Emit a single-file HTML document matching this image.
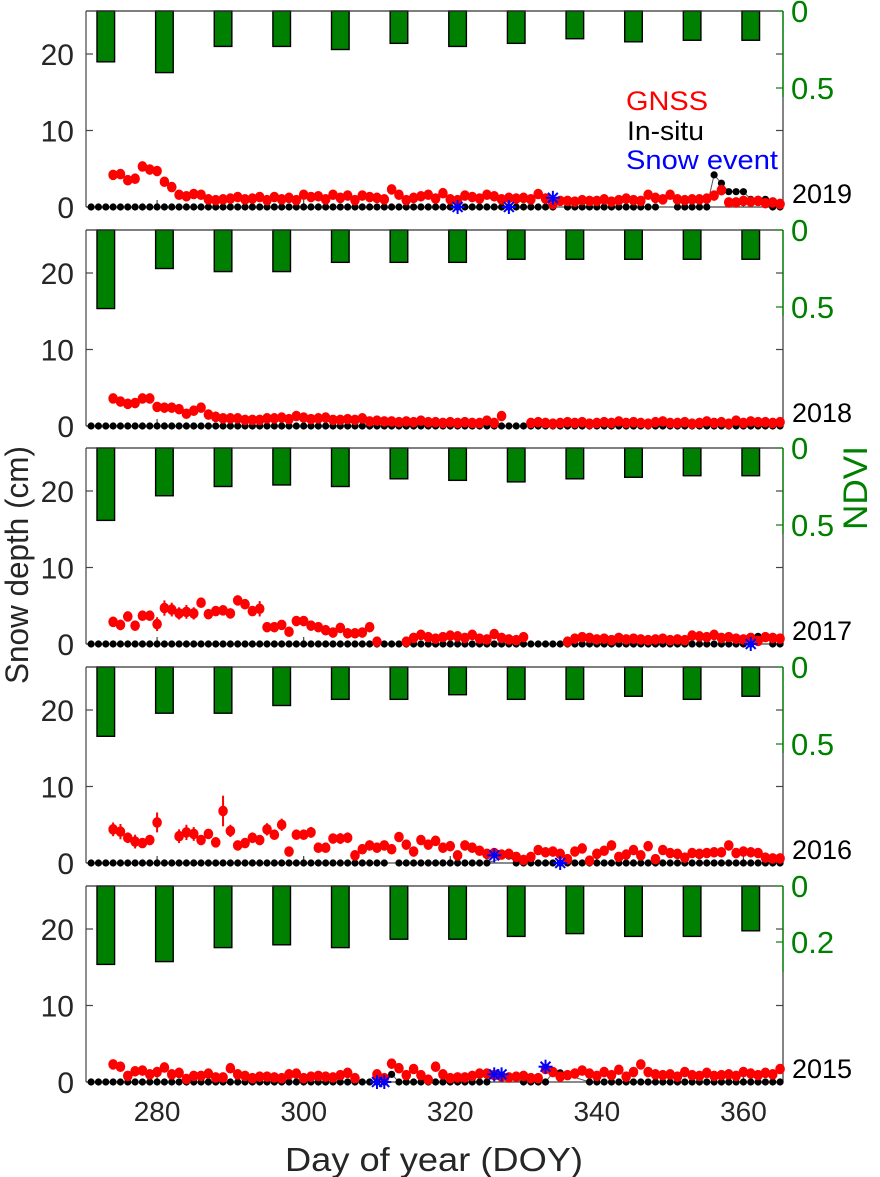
<!DOCTYPE html>
<html><head><meta charset="utf-8"><style>
html,body{margin:0;padding:0;background:#fff;}
svg{display:block;font-family:"Liberation Sans",Arial,sans-serif;}
</style></head><body>
<svg id="chart" width="880" height="1177" viewBox="0 0 880 1177" xmlns="http://www.w3.org/2000/svg">
<text transform="translate(28,565) rotate(-90)" text-anchor="middle" font-size="32" textLength="238" lengthAdjust="spacingAndGlyphs" fill="#262626">Snow depth (cm)</text>
<text transform="translate(867,488) rotate(-90)" text-anchor="middle" font-size="34" textLength="84" lengthAdjust="spacingAndGlyphs" fill="#008000">NDVI</text>
<text x="434" y="1171" text-anchor="middle" font-size="33" textLength="298" lengthAdjust="spacingAndGlyphs" fill="#262626">Day of year (DOY)</text>
<g>
<text x="626" y="110" font-size="27" textLength="82" lengthAdjust="spacingAndGlyphs" fill="#ff0000">GNSS</text>
<text x="627" y="140" font-size="27" textLength="77" lengthAdjust="spacingAndGlyphs" fill="#000">In-situ</text>
<text x="626" y="169" font-size="27" textLength="152" lengthAdjust="spacingAndGlyphs" fill="#0000ff">Snow event</text>
</g>
</svg>
<script>
const years = ["2019","2018","2017","2016","2015"];
const xTicks = [280,300,320,340,360];
const yTicks = [0,10,20];
const ndviTicks = [[0,0.5],[0,0.5],[0,0.5],[0,0.5],[0,0.2]];
const barDays = [273,281,289,297,305,313,321,329,337,345,353,361];
const ndvi2019 = [0.33,0.40,0.23,0.23,0.25,0.21,0.23,0.21,0.18,0.20,0.19,0.19];
const ndvi2018 = [0.51,0.25,0.27,0.27,0.21,0.21,0.21,0.19,0.19,0.19,0.19,0.19];
const ndvi2017 = [0.47,0.31,0.25,0.24,0.25,0.20,0.21,0.22,0.20,0.19,0.18,0.18];
const ndvi2016 = [0.45,0.30,0.30,0.25,0.21,0.21,0.18,0.21,0.21,0.19,0.21,0.19];
const ndvi2015 = [0.28,0.27,0.22,0.21,0.22,0.19,0.19,0.18,0.17,0.18,0.18,0.16];
const gnssStartDay = 274;
const gnss2019 = [4.2,4.3,3.5,3.7,5.3,4.9,4.7,3.3,2.6,1.6,1.4,1.7,1.6,1.0,0.9,1.0,1.1,1.3,1.0,1.1,1.3,0.9,1.3,1.0,1.2,0.9,1.6,1.3,1.4,1.0,1.6,1.2,1.5,0.9,1.5,1.3,1.2,1.0,2.3,1.6,0.9,1.2,1.4,1.6,1.1,1.8,1.0,0.9,1.5,1.3,1.1,1.6,1.4,1.0,1.2,1.1,1.2,1.0,1.7,1.1,0.4,0.8,0.8,0.7,0.9,0.8,0.8,1.0,0.7,0.9,1.1,0.9,0.8,1.6,1.2,1.0,1.6,1.0,0.9,1.0,1.0,1.1,1.5,2.2,0.6,0.6,0.8,0.7,0.8,0.5,0.6,0.4];
const gnss2018 = [3.6,3.2,2.9,3.0,3.6,3.6,2.5,2.4,2.4,2.2,1.6,2.0,2.4,1.5,1.2,1.0,1.0,1.0,0.8,0.8,0.8,1.0,1.0,1.1,0.9,1.3,1.1,0.9,1.0,1.1,0.8,0.8,0.9,0.8,1.0,0.6,0.7,0.6,0.6,0.5,0.6,0.5,0.7,0.5,0.5,0.4,0.5,0.4,0.5,0.4,0.4,0.7,0.4,1.3,null,null,null,0.4,0.5,0.4,0.3,0.4,0.5,0.4,0.5,0.3,0.4,0.5,0.4,0.6,0.4,0.5,0.4,0.3,0.5,0.6,0.4,0.4,0.5,0.3,0.4,0.6,0.4,0.5,0.3,0.7,0.4,0.6,0.5,0.5,0.4,0.5];
const gnss2017 = [2.9,2.5,3.6,2.4,3.7,3.7,2.6,4.7,4.5,4.0,4.2,4.0,5.4,3.9,4.3,4.4,4.0,5.7,5.2,4.3,4.6,2.2,2.2,2.5,1.6,3.0,3.0,2.4,2.2,1.8,1.5,2.1,1.4,1.4,1.5,2.2,0.3,null,null,null,0.3,0.8,1.2,0.9,0.7,0.9,1.1,1.0,0.8,1.2,0.7,0.6,1.3,0.8,0.6,0.5,0.9,null,null,null,null,null,0.3,0.7,0.9,0.8,0.6,0.7,0.5,0.8,0.6,0.7,0.6,0.5,0.6,0.7,0.5,0.6,0.5,1.1,1.0,0.9,1.2,0.8,0.9,0.7,0.6,0.8,0.4,0.9,0.8,0.7];
const gnss2016 = [4.4,4.1,3.3,2.8,2.6,3.0,5.3,null,null,3.5,4.0,3.8,3.0,3.8,2.7,6.8,4.2,2.3,2.6,3.3,3.0,4.4,3.7,5.0,1.5,3.7,3.7,4.0,2.0,2.0,3.2,3.2,3.3,1.0,1.8,2.3,2.0,2.3,1.8,3.4,2.4,1.5,3.0,2.4,2.9,2.0,2.2,1.0,2.3,2.0,1.6,1.2,1.3,1.1,1.2,0.8,0.4,0.8,1.7,1.4,1.5,1.2,0.5,1.5,1.9,0.3,1.2,1.6,2.3,0.8,1.1,1.7,1.0,2.2,0.5,1.7,1.3,1.2,0.7,1.3,1.2,1.3,1.4,1.4,2.3,1.3,1.5,1.4,1.3,0.7,0.6,0.6];
const gnss2015 = [2.3,2.0,0.8,1.4,1.5,1.0,1.3,1.9,1.0,1.2,0.4,0.8,0.8,1.1,0.6,0.6,1.8,1.0,0.8,0.5,0.7,0.7,0.6,0.5,1.0,1.1,0.5,0.7,0.8,0.7,0.6,0.9,1.2,0.5,null,null,1.0,0.5,2.4,1.8,0.9,1.7,0.9,0.3,2.0,1.0,0.5,0.6,0.6,0.8,1.1,1.1,0.9,0.7,0.6,0.7,0.8,0.5,0.5,1.7,1.3,0.7,0.9,1.1,1.5,1.1,0.8,1.3,0.9,1.6,0.7,1.3,2.3,1.3,1.0,0.9,1.0,0.7,1.3,0.9,0.8,1.2,0.8,0.9,1.0,0.8,1.3,1.1,0.9,1.2,1.0,1.7];
const gnssErr2017 = [[274,0.6],[275,0.7],[276,0.5],[280,0.9],[281,1.0],[282,0.9],[283,0.8],[284,0.9],[285,0.8],[286,0.6],[290,0.6],[291,0.6],[292,0.6],[293,0.6],[294,1.0]];
const gnssErr2016 = [[274,0.9],[275,1.0],[276,0.7],[277,0.9],[278,0.6],[280,1.3],[283,0.9],[284,1.0],[285,0.9],[287,0.6],[289,2.0],[290,0.8],[293,0.7],[294,0.6],[295,0.8],[297,0.8],[301,0.7],[305,0.7],[306,0.7]];
const gnssErr2019 = [[274,0.5],[275,0.5],[278,0.5],[279,0.5],[280,0.5]];
const insituDays = [271,365];
const insituGaps2019 = [335,349,350];
const insituVals2019 = [[356,4.2],[357,3.1],[358,2.0],[359,2.0],[360,2.0],[361,1.0],[362,1.0],[363,1.0]];
const insituGaps2018 = [];
const insituVals2018 = [];
const insituGaps2017 = [];
const insituVals2017 = [[362,1.0],[363,0.9]];
const insituGaps2016 = [312,326,327];
const insituVals2016 = [[328,0.9]];
const insituGaps2015 = [327,328,329,336,337,338];
const insituVals2015 = [[312,1.0],[326,1.1],[334,1.2],[335,1.2]];
const snow2019 = [[321,0],[328,0],[334,1.2]];
const snow2018 = [];
const snow2017 = [[361,0]];
const snow2016 = [[326,1.0],[335,0]];
const snow2015 = [[310,0],[311,0],[326,1.0],[327,1.0],[333,2.0]];

const ndviAll=[ndvi2019,ndvi2018,ndvi2017,ndvi2016,ndvi2015];
const gnssAll=[gnss2019,gnss2018,gnss2017,gnss2016,gnss2015];
const errAll=[gnssErr2019,[],gnssErr2017,gnssErr2016,[]];
const gapAll=[insituGaps2019,insituGaps2018,insituGaps2017,insituGaps2016,insituGaps2015];
const insAll=[insituVals2019,insituVals2018,insituVals2017,insituVals2016,insituVals2015];
const snowAll=[snow2019,snow2018,snow2017,snow2016,snow2015];

const NS="http://www.w3.org/2000/svg";
const svg=document.getElementById('chart');
const X0=86,X1=783,D0=270.3,D1=365.4;
const xs=d=>X0+(d-D0)*(X1-X0)/(D1-D0);
const zeroY=[207,426,644,863,1082];
const cmPx=7.65;
const ndviPx=[154,154,154,154,280];
function mk(tag,attrs,parent){const e=document.createElementNS(NS,tag);for(const k in attrs)e.setAttribute(k,attrs[k]);(parent||svg).appendChild(e);return e;}

for(let p=0;p<5;p++){
  const y0=zeroY[p], top=y0-196;
  const ys=v=>y0-v*cmPx;
  const yn=v=>top+v*ndviPx[p];
  const g=mk('g',{});
  
  
  ndviAll[p].forEach((v,i)=>{
    const bw=xs(barDays[i]+1.2)-xs(barDays[i]-1.2);
    const r=mk('rect',{x:xs(barDays[i])-bw/2,y:top,width:bw,height:yn(v)-top,fill:'#008000',stroke:'#000','stroke-width':1.4},g);
    
    
  });
  mk('line',{x1:X0,y1:top,x2:X1,y2:top,stroke:'#333','stroke-width':1.2},g);
  mk('line',{x1:X0,y1:top,x2:X0,y2:y0,stroke:'#444','stroke-width':1.2},g);
  mk('line',{x1:X0,y1:y0,x2:X1,y2:y0,stroke:'#444','stroke-width':1.2},g);
  mk('line',{x1:X1,y1:top,x2:X1,y2:y0,stroke:'#333','stroke-width':1.2},g);
  mk('line',{x1:X1,y1:top,x2:X1,y2:top+86,stroke:'#008000','stroke-width':1.4},g);
  yTicks.forEach(t=>{
    mk('line',{x1:X0,y1:ys(t),x2:X0+7,y2:ys(t),stroke:'#444','stroke-width':1.2},g);
    mk('line',{x1:X1,y1:ys(t),x2:X1-7,y2:ys(t),stroke:'#444','stroke-width':1.2},g);
    const tx=mk('text',{x:74,y:ys(t)+11,'text-anchor':'end','font-size':30,fill:'#262626'},g);
    tx.textContent=t;
    
    
  });
  ndviTicks[p].forEach(t=>{
    mk('line',{x1:X1,y1:yn(t),x2:X1-7,y2:yn(t),stroke:'#008000','stroke-width':1.2},g);
    const tx=mk('text',{x:791,y:yn(t)+11,'font-size':31,fill:'#008000'},g);
    tx.textContent=t;
    
    
  });
  xTicks.forEach(t=>{
    mk('line',{x1:xs(t),y1:y0,x2:xs(t),y2:y0-7,stroke:'#444','stroke-width':1.2},g);
    if(p===4){const tx=mk('text',{x:xs(t),y:y0+39,'text-anchor':'middle','font-size':28,fill:'#262626'},g);
      tx.textContent=t;
      
      }
  });
  const yl=mk('text',{x:792,y:y0-4,'font-size':27,fill:'#000'},g);
  yl.textContent=years[p];
  
  
  const pts=[];
  for(let d=insituDays[0];d<=insituDays[1];d++){
    if(gapAll[p].includes(d))continue;
    const o=insAll[p].find(a=>a[0]===d);
    pts.push([d,o?o[1]:0]);
  }
  mk('polyline',{points:pts.map(a=>xs(a[0])+','+ys(a[1])).join(' '),fill:'none',stroke:'#555','stroke-width':1},g);
  gnssAll[p].forEach((v,i)=>{
    if(v===null)return;
    const d=gnssStartDay+i;
    const e=errAll[p].find(a=>a[0]===d);
    const err=e?e[1]:0.25;
    mk('line',{x1:xs(d),y1:ys(v+err),x2:xs(d),y2:ys(v-err),stroke:'#ff0000','stroke-width':2},g);
  });
  pts.forEach(a=>{
    const c=mk('circle',{cx:xs(a[0]),cy:ys(a[1]),r:3.6,fill:'#000'},g);
    
    
  });
  gnssAll[p].forEach((v,i)=>{
    if(v===null)return;
    const d=gnssStartDay+i;
    const c=mk('ellipse',{cx:xs(d),cy:ys(v),rx:4.8,ry:5.3,fill:'#ff0000'},g);
    
    
  });
  snowAll[p].forEach(a=>{
    const cx=xs(a[0]),cy=ys(a[1]);
    const s=mk('g',{stroke:'#0000ff','stroke-width':2},g);
    
    
    for(let k=0;k<4;k++){const an=k*Math.PI/4;mk('line',{x1:cx-7*Math.cos(an),y1:cy-7*Math.sin(an),x2:cx+7*Math.cos(an),y2:cy+7*Math.sin(an)},s);}
  });
}
</script>
</body></html>
